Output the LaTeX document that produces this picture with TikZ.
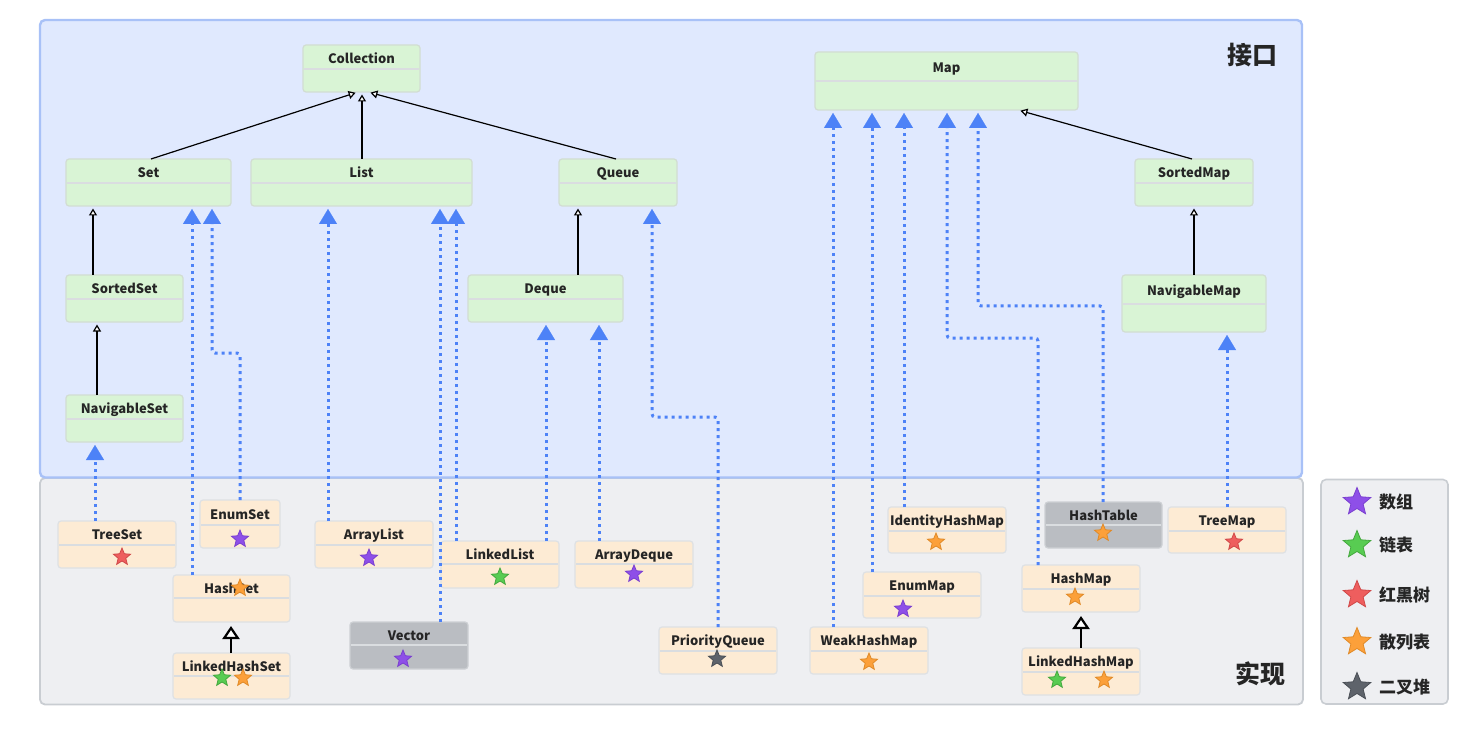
\documentclass[tikz,border=0pt]{standalone}
\usepackage{fontspec}
\setmainfont{Noto Sans CJK SC}
\usetikzlibrary{shapes.geometric,arrows.meta}
\definecolor{ifcF}{HTML}{D9F4D5}
\definecolor{ifcB}{HTML}{D2DDD2}
\definecolor{impF}{HTML}{FDEBD4}
\definecolor{impB}{HTML}{DEE1E4}
\definecolor{depF}{HTML}{BABDC2}
\definecolor{depB}{HTML}{CDD0D4}
\definecolor{panB}{HTML}{A8C1F7}
\definecolor{panF}{HTML}{E0E9FE}
\definecolor{grF}{HTML}{EEEFF2}
\definecolor{grB}{HTML}{C9CDD2}
\definecolor{blu}{HTML}{4D82F7}
\definecolor{txt}{HTML}{252525}
\definecolor{divc}{HTML}{DADDE0}
\definecolor{sPurF}{HTML}{8E4FE8}\definecolor{sPurB}{HTML}{7A3FD0}
\definecolor{sGrnF}{HTML}{58CC52}\definecolor{sGrnB}{HTML}{44A83E}
\definecolor{sRedF}{HTML}{EE5E5E}\definecolor{sRedB}{HTML}{D04848}
\definecolor{sOrgF}{HTML}{FCA03A}\definecolor{sOrgB}{HTML}{E08A28}
\definecolor{sGryF}{HTML}{5E636B}\definecolor{sGryB}{HTML}{4A4F56}
\newcommand\umlcls[8]{%
  \node[#7, minimum width={(#4)-(#2)}, minimum height={(#5)-(#3)}] (#1) at ({((#2)+(#4))/2},{((#3)+(#5))/2}) {};
  \draw[divline] ({(#2)+1},#6) -- ({(#4)-1},#6);
  \node[lbl] (#1-t) at ({((#2)+(#4))/2},{((#3)+(#6))/2}) {#8};
}
\begin{document}
\begin{tikzpicture}[x=1pt,y=-1pt,
  box/.style={rounded corners=3pt, line width=1.2pt, inner sep=0pt, outer sep=0pt},
  ifc/.style={box, draw=ifcB, fill=ifcF},
  imp/.style={box, draw=impB, fill=impF},
  dep/.style={box, draw=depB, fill=depF},
  divline/.style={draw=divc, line width=1.2pt},
  lbl/.style={font=\bfseries\fontsize{13}{15}\selectfont, text=txt, inner sep=0pt, text height=9.5pt, text depth=2.5pt, yshift=-3pt},
  big/.style={font=\bfseries\fontsize{25}{28}\selectfont, text=txt, inner sep=0pt},
  leg/.style={font=\bfseries\fontsize{17}{20}\selectfont, text=txt, inner sep=0pt, anchor=west},
  gen/.style={draw=black, line width=1.2pt, -{Triangle[open, fill=white, width=8pt, length=7pt]}, shorten >=2.5pt},
  genbig/.style={draw=black, line width=2.2pt, -{Triangle[open, fill=white, width=17pt, length=13pt]}, shorten >=4pt},
  realz/.style={draw=blu, line width=3pt, line cap=butt, dash pattern=on 3pt off 4pt, rounded corners=3pt, -{Triangle[width=18pt, length=15pt, fill=blu, line width=0.1pt]}, shorten >=3pt},
  st/.style={star, star points=5, star point ratio=2.25, inner sep=0pt, minimum size=18pt, line width=0.8pt},
  pur/.style={st, fill=sPurF, draw=sPurB},
  grn/.style={st, fill=sGrnF, draw=sGrnB},
  red/.style={st, fill=sRedF, draw=sRedB},
  org/.style={st, fill=sOrgF, draw=sOrgB},
  gry/.style={st, fill=sGryF, draw=sGryB},
]
\useasboundingbox (0,0) rectangle (1460,738);
% panels
\draw[fill=grF, draw=grB, line width=1.8pt, rounded corners=5pt] (40,478) rectangle (1303,704.5);
\draw[fill=panF, draw=panB, line width=2.4pt, rounded corners=5pt] (40,20) rectangle (1302,477.5);
\draw[fill=grF, draw=grB, line width=1.6pt, rounded corners=5pt] (1321,479.5) rectangle (1448,704);
\node[big] (ifcTitle) at (1252,55) {接口};
\node[big] (impTitle) at (1260,674) {实现};
% interfaces
\umlcls{Collection}{303}{45}{420}{92}{69}{ifc}{Collection}
\umlcls{Set}{66}{159}{231}{206}{183}{ifc}{Set}
\umlcls{List}{251}{159}{472}{206}{183}{ifc}{List}
\umlcls{Queue}{559}{159}{677}{206}{183}{ifc}{Queue}
\umlcls{Deque}{468}{275}{623}{322}{299}{ifc}{Deque}
\umlcls{SortedSet}{66}{275}{183}{322}{299}{ifc}{SortedSet}
\umlcls{NavigableSet}{66}{395}{183}{442}{419}{ifc}{NavigableSet}
\umlcls{Map}{815}{52}{1078}{110}{81}{ifc}{Map}
\umlcls{SortedMap}{1135}{159}{1253}{206}{183}{ifc}{SortedMap}
\umlcls{NavigableMap}{1122}{275}{1266}{332}{304}{ifc}{NavigableMap}
% implementations
\umlcls{TreeSet}{58}{521}{176}{568}{545}{imp}{TreeSet}
\umlcls{EnumSet}{200}{500}{280}{548}{525}{imp}{EnumSet}
\umlcls{ArrayList}{315}{521}{433}{568}{545}{imp}{ArrayList}
\umlcls{HashSet}{173}{575}{290}{622}{598}{imp}{HashSet}
\umlcls{LinkedHashSet}{173}{653}{290}{699}{676}{imp}{LinkedHashSet}
\umlcls{Vector}{350}{622}{468}{669}{645}{dep}{Vector}
\umlcls{LinkedList}{441}{541}{559}{588}{564}{imp}{LinkedList}
\umlcls{ArrayDeque}{575}{541}{693}{588}{564}{imp}{ArrayDeque}
\umlcls{PriorityQueue}{659}{627}{777}{674}{651}{imp}{PriorityQueue}
\umlcls{WeakHashMap}{810}{627}{928}{674}{651}{imp}{WeakHashMap}
\umlcls{EnumMap}{863}{572}{981}{618}{596}{imp}{EnumMap}
\umlcls{IdentityHashMap}{888}{507}{1006}{553}{531}{imp}{IdentityHashMap}
\umlcls{HashTable}{1045}{502}{1162}{548}{525}{dep}{HashTable}
\umlcls{TreeMap}{1168}{507}{1286}{553}{531}{imp}{TreeMap}
\umlcls{HashMap}{1022}{565}{1140}{612}{589}{imp}{HashMap}
\umlcls{LinkedHashMap}{1022}{648}{1140}{695}{672}{imp}{LinkedHashMap}
% generalization
\draw[gen] (Set.north -| 151,0) -- (Collection.south -| 358,0);
\draw[gen] (List.north -| 362,0) -- (Collection.south -| 362,0);
\draw[gen] (Queue.north -| 616,0) -- (Collection.south -| 368,0);
\draw[gen] (SortedSet.north -| 93,0) -- (Set.south -| 93,0);
\draw[gen] (NavigableSet.north -| 97,0) -- (SortedSet.south -| 97,0);
\draw[gen] (Deque.north -| 578,0) -- (Queue.south -| 578,0);
\draw[gen] (SortedMap.north -| 1192,0) -- (Map.south -| 1018,0);
\draw[gen] (NavigableMap.north -| 1194,0) -- (SortedMap.south -| 1194,0);
\draw[genbig] (LinkedHashSet.north -| 231,0) -- (HashSet.south -| 231,0);
\draw[genbig] (LinkedHashMap.north -| 1081,0) -- (HashMap.south -| 1081,0);
% realization
\draw[realz] (TreeSet.north -| 95,0) -- (NavigableSet.south -| 95,0);
\draw[realz] (HashSet.north -| 192,0) -- (Set.south -| 192,0);
\draw[realz] (EnumSet.north -| 240,0) -- (240,353) -- (212,353) -- (Set.south -| 212,0);
\draw[realz] (ArrayList.north -| 328,0) -- (List.south -| 328,0);
\draw[realz] (Vector.north -| 440,0) -- (List.south -| 440,0);
\draw[realz] (LinkedList.north -| 456,0) -- (List.south -| 456,0);
\draw[realz] (LinkedList.north -| 546,0) -- (Deque.south -| 546,0);
\draw[realz] (ArrayDeque.north -| 599,0) -- (Deque.south -| 599,0);
\draw[realz] (PriorityQueue.north -| 718,0) -- (718,417) -- (652,417) -- (Queue.south -| 652,0);
\draw[realz] (WeakHashMap.north -| 833,0) -- (Map.south -| 833,0);
\draw[realz] (EnumMap.north -| 872,0) -- (Map.south -| 872,0);
\draw[realz] (IdentityHashMap.north -| 904,0) -- (Map.south -| 904,0);
\draw[realz] (HashMap.north -| 1038,0) -- (1038,338) -- (947,338) -- (Map.south -| 947,0);
\draw[realz] (HashTable.north -| 1103,0) -- (1103,306) -- (978,306) -- (Map.south -| 978,0);
\draw[realz] (TreeMap.north -| 1227,0) -- (NavigableMap.south -| 1227,0);
% stars
\node[red] (s1) at (122,557) {};
\node[pur] (s2) at (240,539) {};
\node[pur] (s3) at (369,558) {};
\node[org] (s4) at (240,588) {};
\node[grn] (s5) at (222,678) {};
\node[org] (s6) at (243,678) {};
\node[pur] (s7) at (403,659) {};
\node[grn] (s8) at (500,577) {};
\node[pur] (s9) at (634,574) {};
\node[gry] (s10) at (717,659) {};
\node[org] (s11) at (869,662) {};
\node[pur] (s12) at (903,609) {};
\node[org] (s13) at (936,542) {};
\node[org] (s14) at (1103,533) {};
\node[red] (s15) at (1234,542) {};
\node[org] (s16) at (1075,597) {};
\node[grn] (s17) at (1057,680) {};
\node[org] (s18) at (1104,680) {};
% legend
\node[pur, minimum size=29pt] (l1) at (1357,502) {};
\node[grn, minimum size=29pt] (l2) at (1357,545) {};
\node[red, minimum size=29pt] (l3) at (1357,595) {};
\node[org, minimum size=29pt] (l4) at (1357,642) {};
\node[gry, minimum size=29pt] (l5) at (1357,687) {};
\node[leg] (t1) at (1379,502) {数组};
\node[leg] (t2) at (1379,545) {链表};
\node[leg] (t3) at (1379,595) {红黑树};
\node[leg] (t4) at (1379,642) {散列表};
\node[leg] (t5) at (1379,687) {二叉堆};
\end{tikzpicture}
\end{document}
